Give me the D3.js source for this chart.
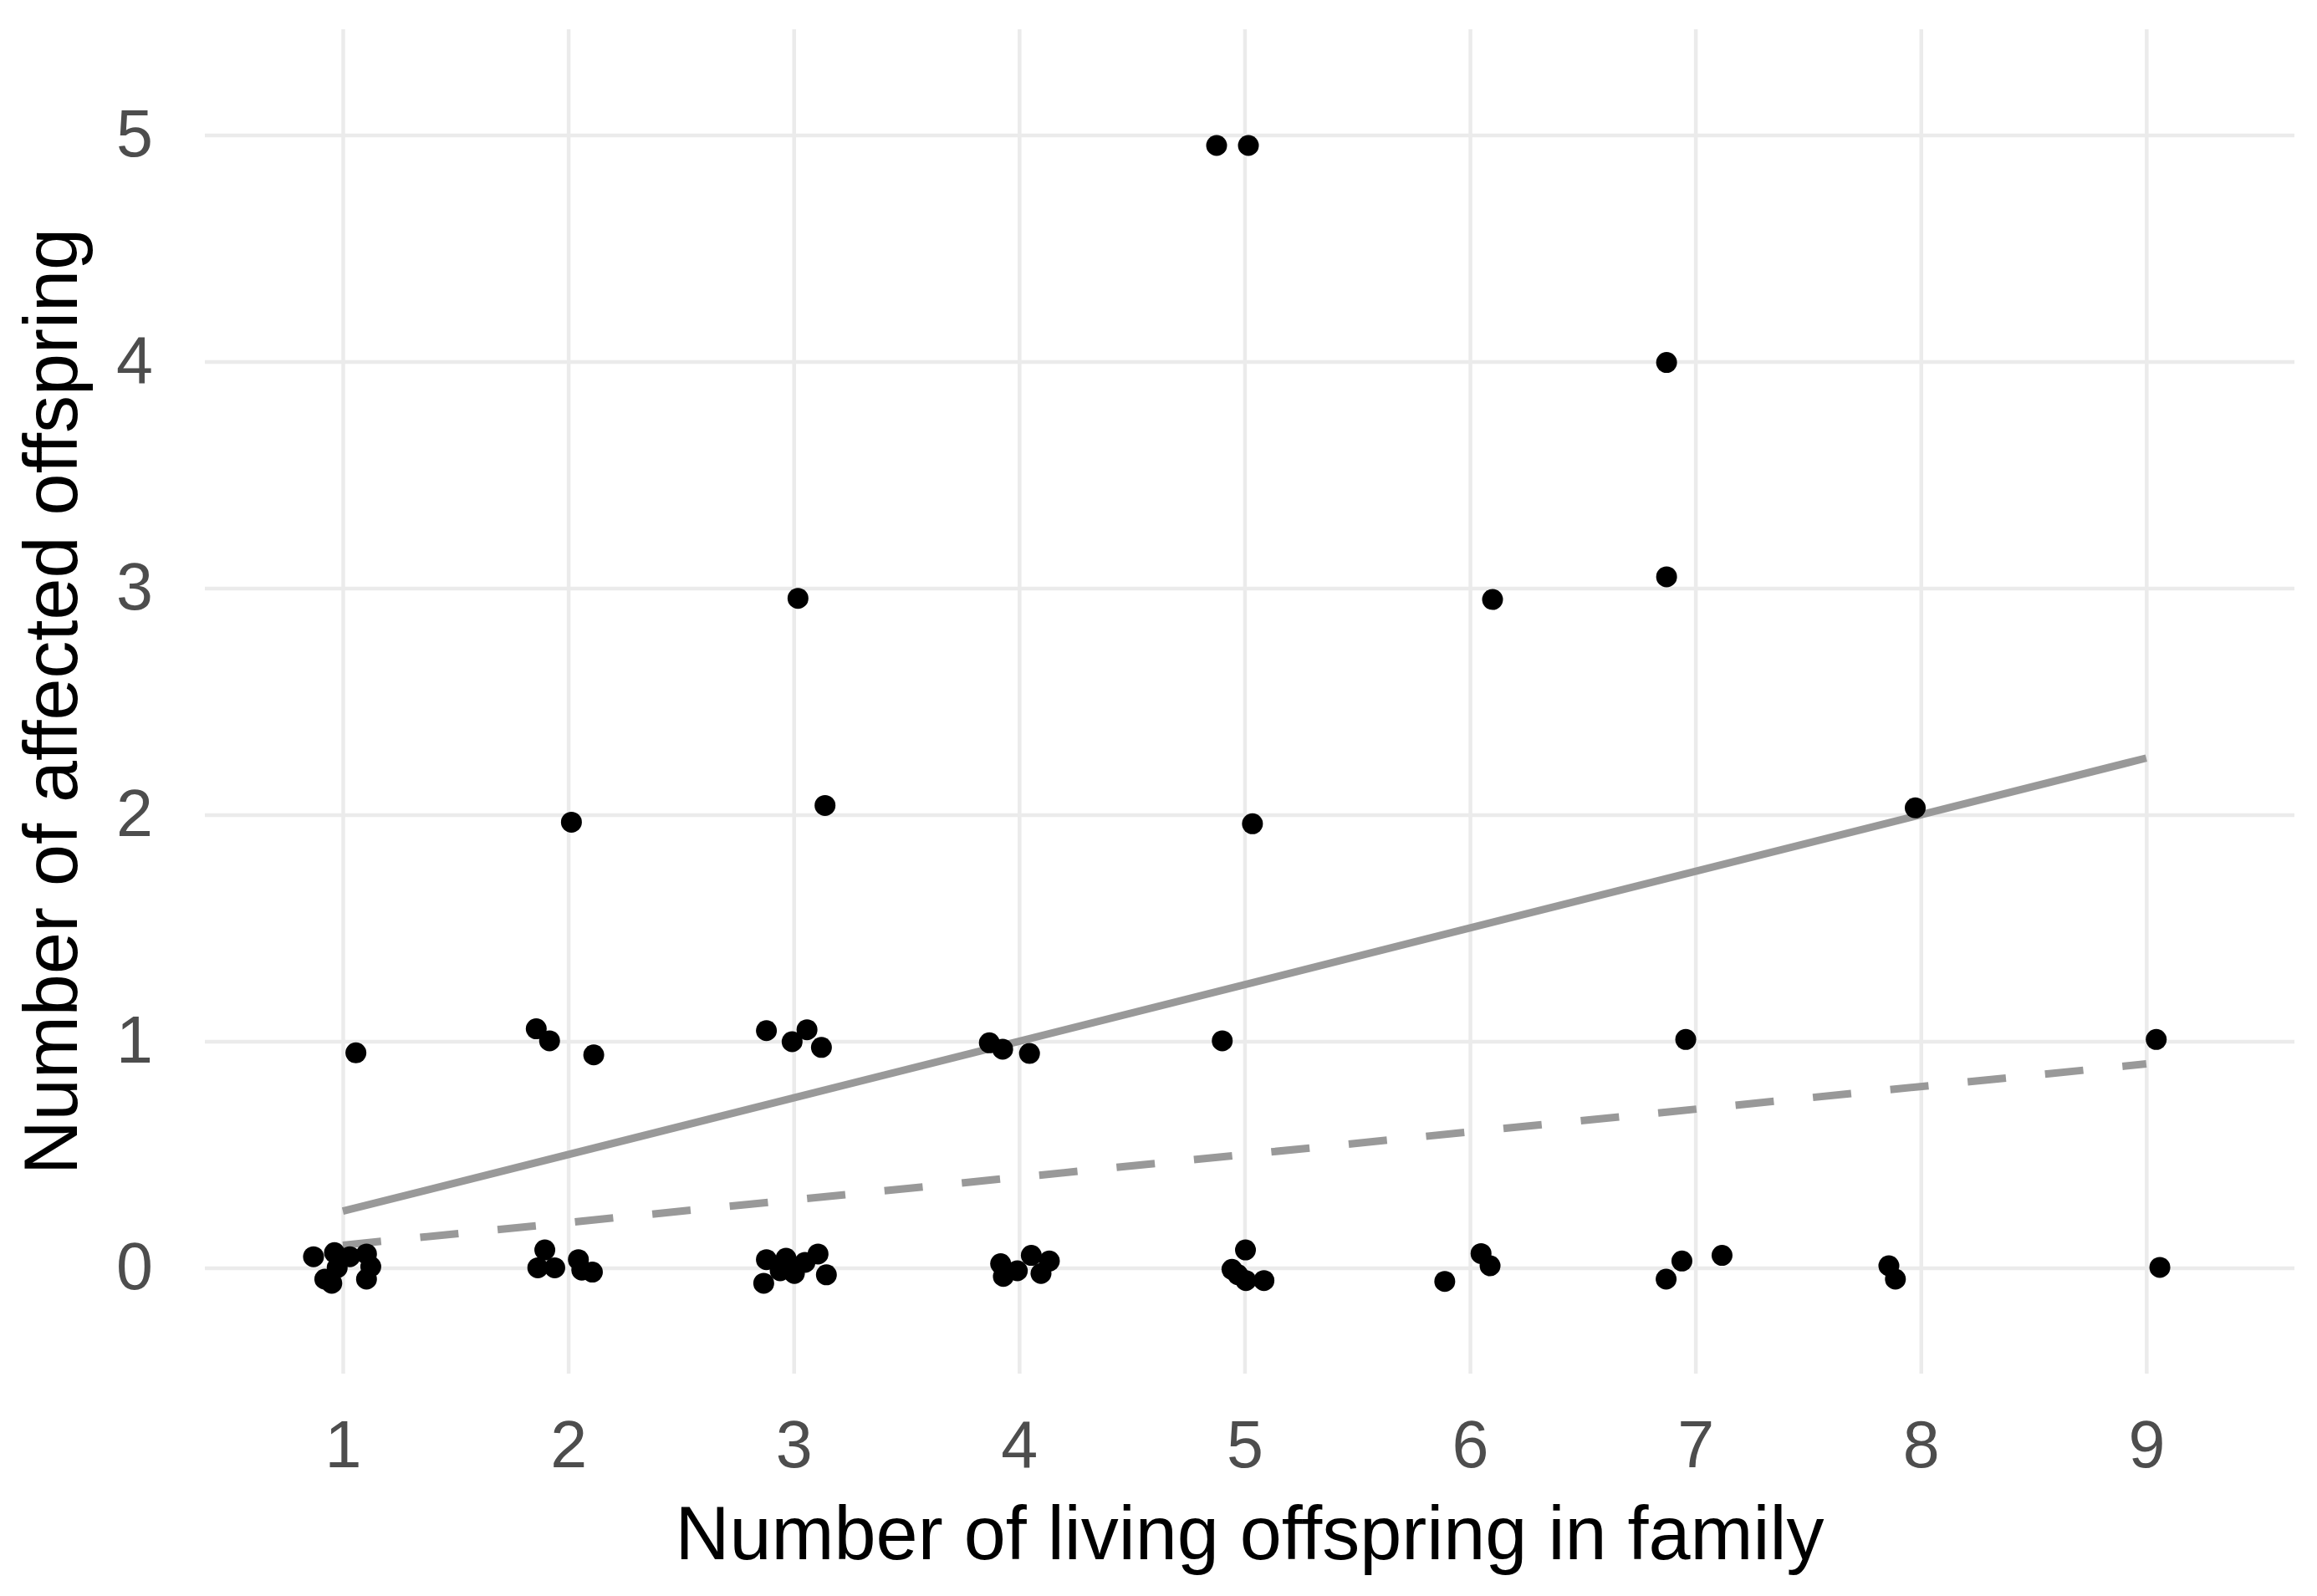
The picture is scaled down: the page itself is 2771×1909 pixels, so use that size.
<!DOCTYPE html>
<html>
<head>
<meta charset="utf-8">
<script src="https://cdn.jsdelivr.net/npm/d3@7"></script>
<style>
  body { margin: 0; background: #fff; }
  svg { display: block; font-family: "Liberation Sans", Arial, sans-serif; }
</style>
</head>
<body>
<svg class="chart"></svg>
<script>
// Jittered points (x = living offspring, y = affected)
var offspringX = [
  4.876, 5.017, 6.872, 6.872, 6.10,
  2.014, 3.019, 3.139, 5.035, 7.975,
  1.058, 1.858, 1.917, 2.113, 2.879, 2.993, 3.059, 3.123, 3.868, 3.927, 4.046, 4.901, 6.957, 9.044,
  0.87, 0.963, 1.031, 1.105, 0.92, 0.951, 0.975, 1.124, 1.105,
  1.896, 1.865, 1.94, 2.045, 2.107, 2.06,
  2.867, 2.879, 2.94, 2.966, 3.003, 3.05, 3.108, 3.145,
  3.918, 3.93, 3.992, 4.054, 4.134, 4.097,
  5.004, 4.944, 4.97, 5.006, 5.086,
  5.888, 6.049, 6.089, 6.87, 6.94, 7.118, 7.858, 7.887, 9.06
];
var affectedY = [
  4.954, 4.954, 3.996, 3.05, 2.95,
  1.967, 2.955, 2.041, 1.96, 2.03,
  0.949, 1.055, 1.002, 0.940, 1.047, 0.998, 1.051, 0.973, 0.993, 0.965, 0.946, 1.002, 1.008, 1.008,
  0.049, 0.067, 0.049, 0.061, -0.05, -0.068, 0.0, 0.005, -0.05,
  0.079, 0.0, 0.0, 0.036, -0.019, -0.01,
  -0.068, 0.036, -0.013, 0.042, -0.025, 0.024, 0.061, -0.031,
  0.018, -0.038, -0.013, 0.055, 0.03, -0.025,
  0.079, -0.007, -0.03, -0.056, -0.056,
  -0.06, 0.063, 0.009, -0.05, 0.03, 0.055, 0.009, -0.05, 0.002
];

// the two reference lines
var lineX = [1, 9];
var solidY = [0.25, 2.25];
var dashedY = [0.1, 0.9];

var xTicks = [1, 2, 3, 4, 5, 6, 7, 8, 9];
var yTicks = [0, 1, 2, 3, 4, 5];

var width = 2771, height = 1909;
var panel = {left: 245, right: 2744, top: 35, bottom: 1643};

var chart = d3.select(".chart")
  .attr("width", width)
  .attr("height", height);

var x = d3.scaleLinear()
  .domain([0.388, 9.657])
  .range([panel.left, panel.right]);
var y = d3.scaleLinear()
  .domain([-0.467, 5.467])
  .range([panel.bottom, panel.top]);

// gridlines
chart.append("g")
  .attr("class", "grid")
  .attr("transform", "translate(0," + panel.bottom + ")")
  .call(d3.axisBottom(x).tickValues(xTicks).tickSize(-(panel.bottom - panel.top)).tickFormat(""))
  .call(g => g.select(".domain").remove());
chart.append("g")
  .attr("class", "grid")
  .attr("transform", "translate(" + panel.left + ",0)")
  .call(d3.axisLeft(y).tickValues(yTicks).tickSize(-(panel.right - panel.left)).tickFormat(""))
  .call(g => g.select(".domain").remove());
chart.selectAll(".grid line")
  .attr("stroke", "#ebebeb")
  .attr("stroke-width", 4.5);

// tick labels
var xAxis = chart.append("g")
  .attr("transform", "translate(0," + panel.bottom + ")")
  .call(d3.axisBottom(x).tickValues(xTicks).tickSize(0).tickPadding(56).tickFormat(d3.format("d")));
var yAxis = chart.append("g")
  .attr("transform", "translate(" + panel.left + ",0)")
  .call(d3.axisLeft(y).tickValues(yTicks).tickSize(0).tickPadding(62).tickFormat(d3.format("d")));
[xAxis, yAxis].forEach(function(a) {
  a.select(".domain").remove();
  a.selectAll("text")
    .attr("fill", "#4d4d4d")
    .style("font-size", "79px")
    .style("font-family", "'Liberation Sans', Arial, sans-serif");
});

// fitted lines
var line = d3.line()
  .x(function(d) { return x(d[0]); })
  .y(function(d) { return y(d[1]); });
chart.append("path")
  .datum(d3.zip(lineX, solidY))
  .attr("d", line)
  .attr("fill", "none")
  .attr("stroke", "#999999")
  .attr("stroke-width", 9);
chart.append("path")
  .datum(d3.zip(lineX, dashedY))
  .attr("d", line)
  .attr("fill", "none")
  .attr("stroke", "#999999")
  .attr("stroke-width", 9)
  .attr("stroke-dasharray", "46,47");

// points
chart.append("g")
  .selectAll("circle")
  .data(d3.zip(offspringX, affectedY))
  .join("circle")
    .attr("cx", function(d) { return x(d[0]); })
    .attr("cy", function(d) { return y(d[1]); })
    .attr("r", 12.5)
    .attr("fill", "black");

// axis titles
chart.append("text")
  .attr("x", (panel.left + panel.right) / 2)
  .attr("y", 1865)
  .attr("text-anchor", "middle")
  .style("font-size", "90px")
  .attr("fill", "black")
  .text("Number of living offspring in family");
chart.append("text")
  .attr("transform", "translate(92," + (panel.top + panel.bottom) / 2 + ") rotate(-90)")
  .attr("text-anchor", "middle")
  .style("font-size", "90px")
  .attr("fill", "black")
  .text("Number of affected offspring");
</script>
</body>
</html>
